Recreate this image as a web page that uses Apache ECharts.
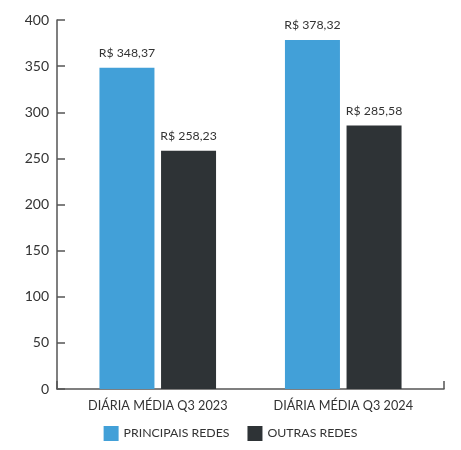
<!DOCTYPE html>
<html>
<head>
<meta charset="utf-8">
<script src="https://cdn.jsdelivr.net/npm/echarts@6/dist/echarts.min.js"></script>
<style>
  html, body { margin: 0; padding: 0; background: #fff; }
  #chart { width: 461px; height: 450px; }
</style>
</head>
<body>
<div id="chart"></div>
<script>
const categories = ['DIÁRIA MÉDIA Q3 2023', 'DIÁRIA MÉDIA Q3 2024']
const principais = [348.37, 378.32]
const outras = [258.23, 285.58]
const yTicks = [0, 50, 100, 150, 200, 250, 300, 350, 400]

const fmt = v => 'R$ ' + v.toFixed(2).replace('.', ',')
const font = 'Lato, "Open Sans", sans-serif'
const axisColor = '#555'

const chart = echarts.init(document.getElementById('chart'))
chart.setOption({
  animation: false,
  textStyle: { fontFamily: font },
  grid: [
    // frame with the axis lines
    { left: 57, right: 17, top: 20, bottom: 61 },
    // bars sit a little closer together than the frame
    { left: 65, right: 25, top: 20, bottom: 61 }
  ],
  legend: {
    bottom: 4,
    left: 'center',
    itemWidth: 15,
    itemHeight: 15,
    itemGap: 18,
    icon: 'rect',
    textStyle: { fontFamily: font, fontSize: 12.3, color: '#333' },
    data: ['PRINCIPAIS REDES', 'OUTRAS REDES']
  },
  xAxis: [
    {
      gridIndex: 0,
      type: 'value',
      min: 0,
      max: 1,
      interval: 1,
      axisLine: { show: true, lineStyle: { color: axisColor, width: 1.5 } },
      axisTick: { show: true, inside: true, length: 8, lineStyle: { color: axisColor, width: 1.5 } },
      axisLabel: { show: false },
      splitLine: { show: false }
    },
    {
      gridIndex: 1,
      type: 'category',
      data: categories,
      axisLine: { show: false },
      axisTick: { show: false },
      axisLabel: { fontFamily: font, fontSize: 12.7, color: '#333', margin: 10 }
    }
  ],
  yAxis: [
    {
      gridIndex: 0,
      type: 'value',
      min: yTicks[0],
      max: yTicks[yTicks.length - 1],
      interval: 50,
      axisLine: { show: true, lineStyle: { color: axisColor, width: 1.5 } },
      axisTick: { show: true, inside: true, length: 8, lineStyle: { color: axisColor, width: 1.5 } },
      splitLine: { show: false },
      axisLabel: { fontFamily: font, fontSize: 14, color: '#333', margin: 8 }
    },
    {
      gridIndex: 1,
      type: 'value',
      min: yTicks[0],
      max: yTicks[yTicks.length - 1],
      show: false
    }
  ],
  series: [
    {
      name: 'PRINCIPAIS REDES',
      type: 'bar',
      xAxisIndex: 1,
      yAxisIndex: 1,
      data: principais,
      barWidth: 55,
      barGap: '12%',
      itemStyle: { color: '#42a0d8' },
      label: {
        show: true, position: 'top', distance: 9,
        formatter: p => fmt(p.value),
        fontFamily: font, fontSize: 12.3, color: '#333'
      }
    },
    {
      name: 'OUTRAS REDES',
      type: 'bar',
      xAxisIndex: 1,
      yAxisIndex: 1,
      data: outras,
      barWidth: 55,
      itemStyle: { color: '#2e3336' },
      label: {
        show: true, position: 'top', distance: 9,
        formatter: p => fmt(p.value),
        fontFamily: font, fontSize: 12.3, color: '#333'
      }
    }
  ]
})
</script>
</body>
</html>
